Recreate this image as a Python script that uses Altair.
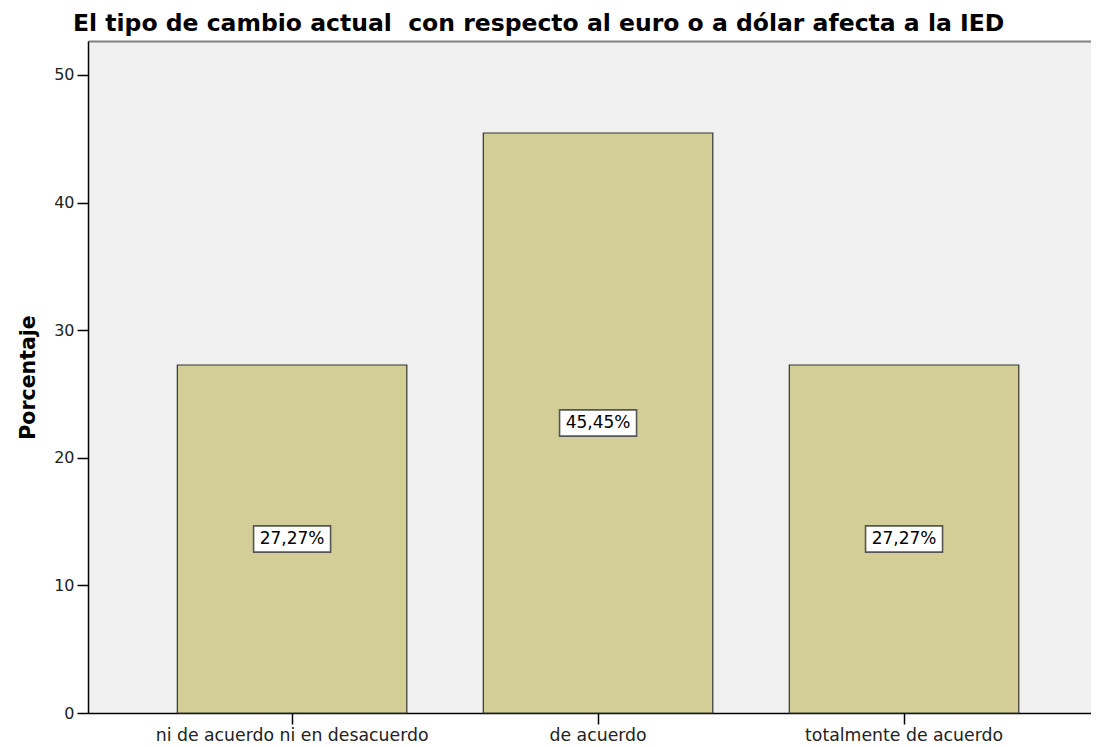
import altair as alt
import pandas as pd

categories = ["ni de acuerdo ni en desacuerdo", "de acuerdo", "totalmente de acuerdo"]
values = [27.27, 45.45, 27.27]
labels = ["27,27%", "45,45%", "27,27%"]
y_ticks = [0, 10, 20, 30, 40, 50]
title_text = "El tipo de cambio actual\u00a0 con respecto al euro o a dólar afecta a la IED"

df = pd.DataFrame({"cat": categories, "val": values, "lab": labels})
df["mid"] = df["val"] / 2

FONT = "DejaVu Sans"

xscale = alt.Scale(domain=categories, paddingInner=0.25, paddingOuter=0.264, align=0.553)
yscale = alt.Scale(domain=[0, 52.66], nice=False, zero=True)

x_enc = alt.X("cat:N", sort=categories, scale=xscale, title=None,
              axis=alt.Axis(labelAngle=0, labelFont=FONT, labelFontSize=17.3, labelColor="#222222",
                            tickSize=11, tickColor="#000000", domainColor="#000000", domainWidth=1.5,
                            tickWidth=1.5, labelPadding=2, grid=False, labelLimit=0))
y_enc = alt.Y("val:Q", scale=yscale, title="Porcentaje",
              axis=alt.Axis(values=y_ticks, labelFont=FONT, labelFontSize=16, labelColor="#222222",
                            tickSize=11, tickColor="#000000", tickWidth=1.5, domainColor="#000000",
                            domainWidth=1.5, labelPadding=3, grid=False,
                            titleFont=FONT, titleFontSize=20.5, titleFontWeight="bold",
                            titleColor="#000000", titlePadding=15))

bars = alt.Chart(df).mark_bar(color="#D3CE97", stroke="#333333", strokeWidth=1.2).encode(
    x=x_enc, y=y_enc
)

top = alt.Chart(df).mark_bar(opacity=0).encode(
    x=alt.X("cat:N", sort=categories, scale=xscale, title=None,
            axis=alt.Axis(orient="top", labels=False, ticks=False, domainColor="#808080",
                          domainWidth=2, grid=False)),
    y=alt.Y("val:Q", scale=yscale, axis=None)
)

box_path = "M-1,-0.34L1,-0.34L1,0.34L-1,0.34Z"
boxes = alt.Chart(df).mark_point(shape=box_path, size=5929, filled=True, fill="#FFFFFF",
                                 stroke="#555555", strokeWidth=1.6, opacity=1).encode(
    x=alt.X("cat:N", sort=categories, scale=xscale, axis=None),
    y=alt.Y("mid:Q", scale=yscale, axis=None)
)

texts = alt.Chart(df).mark_text(font=FONT, fontSize=17, color="#000000", baseline="middle").encode(
    x=alt.X("cat:N", sort=categories, scale=xscale, axis=None),
    y=alt.Y("mid:Q", scale=yscale, axis=None),
    text="lab:N"
)

chart = alt.layer(bars, top, boxes, texts).resolve_axis(x="independent", y="independent").properties(
    width=1003, height=672,
    autosize=alt.AutoSizeParams(type="none"),
    padding={"left": 80, "top": 33, "right": 0, "bottom": 36},
    view=alt.ViewBackground(fill="#F0F0F0", stroke=None),
    title=alt.TitleParams(title_text, font=FONT, fontSize=23.5, fontWeight="bold", color="#000000",
                          anchor="start", frame="group", dx=-15, offset=6),
).configure_view(fill="#F0F0F0", stroke=None).configure(background="#FFFFFF")

chart.save("out.html", embed_options={"renderer": "svg", "actions": False})
